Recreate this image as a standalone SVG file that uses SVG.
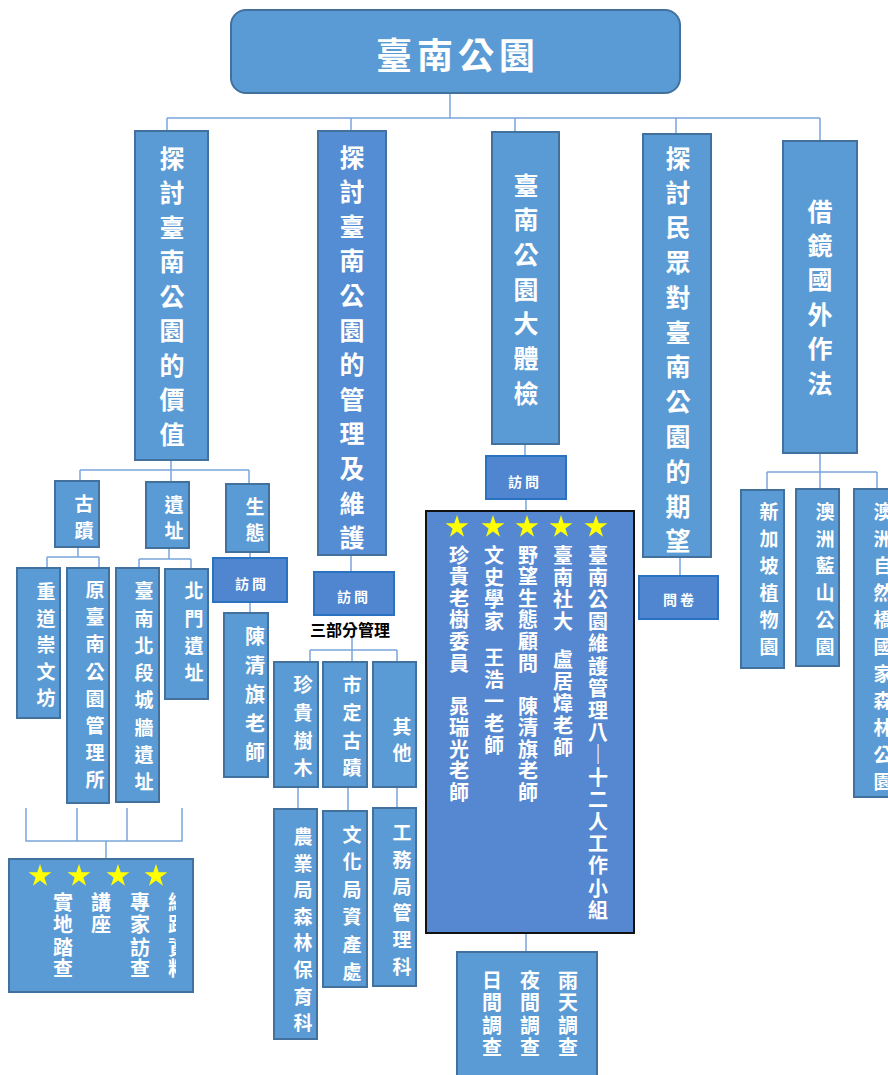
<svg xmlns="http://www.w3.org/2000/svg" width="888" height="1075" viewBox="0 0 888 1075">
<style>
.box{fill:#5b9bd5;stroke:#41719c;stroke-width:2}
.box2{fill:#548dd4;stroke:#41719c;stroke-width:2}
.visit{fill:#4f86cf;stroke:#2a72c0;stroke-width:2}
.big{fill:#5588d1;stroke:#111;stroke-width:2}
.t{fill:#fff;font-family:"Noto Sans CJK TC","Noto Sans CJK SC",sans-serif;font-weight:bold;text-anchor:middle}
.f25{font-size:25px}
.f19{font-size:19px}
.f20{font-size:20px}
.f14{font-size:14px;letter-spacing:3px}
.conn{stroke:#7aa5da;stroke-width:1.5;fill:none}
.star{fill:#ffff00}
</style>
<defs>
<polygon id="star" points="0,-12 2.7,-3.72 11.41,-3.71 4.37,1.42 7.05,9.71 0,4.6 -7.05,9.71 -4.37,1.42 -11.41,-3.71 -2.7,-3.72"/>
<clipPath id="clipBL"><rect x="0" y="850" width="176" height="150"/></clipPath>
</defs>

<g id="connectors" class="conn">
<path d="M450 93V118M167 118H820M167 118V131M351 118V131M515 118V131M676 118V133M820 118V141"/>
<path d="M171 460V470M80 470H249M80 470V481M171 470V482M249 470V484"/>
<path d="M78 547V557M47 557H99M47 557V568M99 557V568"/>
<path d="M169 548V559M139 559H191M139 559V568M191 559V569"/>
<path d="M250 552V558M250 602V613"/>
<path d="M26 808V841H182V808M77 808V841M127 808V841M106 841V859"/>
<path d="M351 555V572M352 638V650M310 650H397M310 650V662M352 650V662M397 650V662"/>
<path d="M298 787V809M348 787V811M397 787V808"/>
<path d="M525 444V456M526 499V511M526 933V952"/>
<path d="M680 557V576"/>
<path d="M820 453V472M767 472H877M767 472V490M820 472V489M877 472V489"/>
</g>

<g id="root">
<rect x="231" y="10" width="449" height="83" rx="15" class="box"/>
<text x="458" y="69" class="t" style="font-size:36px;letter-spacing:5px">臺南公園</text>
</g>

<g id="value">
<rect x="135" y="131" width="73" height="329" class="box"/>
<text class="t f25" x="172 172 172 172 172 172 172 172 172" y="167.5 202 236.5 271 305.5 340 374.5 409 443.5">探討臺南公園的價值</text>
</g>

<g id="manage">
<rect x="318" y="131" width="68" height="424" class="box2"/>
<text class="t f25" x="352 352 352 352 352 352 352 352 352 352 352 352" y="166.5 201.1 235.7 270.3 304.9 339.5 374.1 408.7 443.3 477.9 512.5 547.1">探討臺南公園的管理及維護</text>
</g>

<g id="checkup">
<rect x="492" y="132" width="67" height="312" class="box"/>
<text class="t f25" x="526 526 526 526 526 526 526" y="194.5 229.2 263.9 298.6 333.3 368 402.7">臺南公園大體檢</text>
</g>

<g id="expect">
<rect x="643" y="134" width="68" height="423" class="box"/>
<text class="t f25" x="678 678 678 678 678 678 678 678 678 678 678 678" y="167.5 202.3 237.1 271.9 306.7 341.5 376.3 411.1 445.9 480.7 515.5 550.3">探討民眾對臺南公園的期望</text>
</g>

<g id="abroad">
<rect x="783" y="141" width="74" height="312" class="box"/>
<text class="t f25" x="820 820 820 820 820 820" y="220.5 254.9 289.3 323.7 358.1 392.5">借鏡國外作法</text>
</g>

<g id="guji">
<rect x="55" y="481" width="44" height="66" class="box"/>
<text class="t f19" x="84 84" y="511 538">古蹟</text>
</g>
<g id="yizhi">
<rect x="146" y="482" width="43" height="66" class="box"/>
<text class="t f19" x="174 174" y="512 538">遺址</text>
</g>
<g id="shengtai">
<rect x="226" y="484" width="43" height="68" class="box"/>
<text class="t f19" x="255 255" y="514 540">生態</text>
</g>

<g id="chongdao">
<rect x="17" y="568" width="43" height="150" class="box"/>
<text class="t f19" x="46 46 46 46 46" y="599 625.5 652 678.7 705.3">重道崇文坊</text>
</g>
<g id="guanlisuo">
<rect x="67" y="568" width="42" height="235" class="box"/>
<text class="t f19" x="95 95 95 95 95 95 95 95" y="597.2 624.3 651.4 678.5 705.6 732.7 759.8 786.9">原臺南公園管理所</text>
</g>
<g id="chengqiang">
<rect x="116" y="568" width="43" height="234" class="box"/>
<text class="t f19" x="144 144 144 144 144 144 144 144" y="598.2 625.5 652.8 680.1 707.4 734.7 762 789.3">臺南北段城牆遺址</text>
</g>
<g id="beimen">
<rect x="165" y="569" width="43" height="130" class="box"/>
<text class="t f19" x="194 194 194 194" y="598.2 625.5 652.8 680.1">北門遺址</text>
</g>
<g id="visit1">
<rect x="213" y="558" width="74" height="44" class="visit"/>
<text class="t f14" x="252" y="589">訪問</text>
</g>
<g id="chen1">
<rect x="224" y="613" width="44" height="164" class="box"/>
<text class="t f20" x="255 255 255 255 255" y="644.2 673.2 702.2 731.2 760.2">陳清旗老師</text>
</g>

<g id="methods">
<rect x="9" y="859" width="184" height="133" class="box"/>
<use href="#star" x="40" y="876" class="star"/>
<use href="#star" x="79" y="876" class="star"/>
<use href="#star" x="118" y="876" class="star"/>
<use href="#star" x="156" y="876" class="star"/>
<text class="t f20" x="63 63 63 63" y="909.6 932 954.6 976">實地踏查</text>
<text class="t f20" x="101 101" y="909.6 932">講座</text>
<text class="t f20" x="140 140 140 140" y="909.6 932 954.6 976">專家訪查</text>
<text class="t f20" clip-path="url(#clipBL)" x="178 178 178 178" y="909.6 932 954.6 976">網路資料</text>
</g>

<g id="visit2">
<rect x="314" y="572" width="80" height="43" class="visit"/>
<text class="t f14" x="354" y="602">訪問</text>
</g>
<g id="sanbufen">
<text x="350" y="636" style="font-family:'Noto Sans CJK TC',sans-serif;font-weight:bold;font-size:16px;text-anchor:middle;fill:#000">三部分管理</text>
</g>
<g id="tree">
<rect x="274" y="662" width="44" height="125" class="box"/>
<text class="t f19" x="303 303 303 303" y="692 720 748 775">珍貴樹木</text>
</g>
<g id="monument">
<rect x="323" y="662" width="44" height="125" class="box"/>
<text class="t f19" x="352 352 352 352" y="692 720 748 775">市定古蹟</text>
</g>
<g id="other">
<rect x="373" y="662" width="43" height="125" class="box"/>
<text class="t f19" x="402 402" y="734 760">其他</text>
</g>
<g id="forestry">
<rect x="274" y="809" width="43" height="230" class="box"/>
<text class="t f19" x="303 303 303 303 303 303 303 303" y="844 870.6 897.2 923.8 950.4 977 1003.6 1030.2">農業局森林保育科</text>
</g>
<g id="culture">
<rect x="323" y="811" width="44" height="176" class="box"/>
<text class="t f19" x="352 352 352 352 352 352" y="842 869.4 896.8 924.2 951.6 979">文化局資產處</text>
</g>
<g id="works">
<rect x="373" y="808" width="43" height="178" class="box"/>
<text class="t f19" x="402 402 402 402 402 402" y="840 866.8 893.6 920.4 947.2 974">工務局管理科</text>
</g>

<g id="visit3">
<rect x="486" y="456" width="80" height="43" class="visit"/>
<text class="t f14" x="525" y="487">訪問</text>
</g>
<g id="experts">
<rect x="426" y="511" width="208" height="422" class="big"/>
<use href="#star" x="457" y="527" class="star"/>
<use href="#star" x="493" y="527" class="star"/>
<use href="#star" x="527" y="527" class="star"/>
<use href="#star" x="561" y="527" class="star"/>
<use href="#star" x="596" y="527" class="star"/>
<text class="t f20" x="598 598 598 598 598 598 598 598 598 598 598 598 598 598 598 598 598" y="562.6 584.8 607 629.2 651.4 673.6 695.8 718 740.2 762.4 784.6 806.8 829 851.2 873.4 895.6 917.8">臺南公園維護管理八｜十二人工作小組</text>
<text class="t f20" x="563 563 563 563 563 563 563 563 563" y="562.6 584.6 606.6 628.6 666.6 688.6 710.6 732.6 754.6">臺南社大盧居煒老師</text>
<text class="t f20" x="528 528 528 528 528 528 528 528 528 528 528" y="562.6 584.2 605.8 627.4 649 670.6 713.6 735.2 756.8 778.4 800">野望生態顧問陳清旗老師</text>
<text class="t f20" x="494 494 494 494 494 494 494 494 494" y="562.6 584.6 606.6 628.6 664.6 686.6 708.6 730.6 752.6">文史學家王浩一老師</text>
<text class="t f20" x="459 459 459 459 459 459 459 459 459 459 459" y="562.6 584.2 605.8 627.4 649 670.6 713.6 735.2 756.8 778.4 800">珍貴老樹委員晁瑞光老師</text>
</g>
<g id="survey">
<rect x="457" y="952" width="140" height="130" class="box"/>
<text class="t f20" x="492 492 492 492" y="987.6 1010 1032.6 1055">日間調查</text>
<text class="t f20" x="530 530 530 530" y="987.6 1010 1032.6 1055">夜間調查</text>
<text class="t f20" x="568 568 568 568" y="987.6 1010 1032.6 1055">雨天調查</text>
</g>

<g id="questionnaire">
<rect x="639" y="576" width="79" height="43" class="visit"/>
<text class="t f14" x="680" y="605">問卷</text>
</g>

<g id="singapore">
<rect x="741" y="490" width="43" height="178" class="box"/>
<text class="t f19" x="769 769 769 769 769 769" y="519 546 573 600 627 654">新加坡植物園</text>
</g>
<g id="bluemountains">
<rect x="796" y="489" width="43" height="177" class="box"/>
<text class="t f19" x="825 825 825 825 825 825" y="519 546 573 600 627 654">澳洲藍山公園</text>
</g>
<g id="naturalbridge">
<rect x="854" y="489" width="50" height="308" class="box"/>
<text class="t f19" x="883 883 883 883 883 883 883 883 883 883 883" y="519 546 573 600 627 654 681 708 735 762 789">澳洲自然橋國家森林公園</text>
</g>
</svg>
